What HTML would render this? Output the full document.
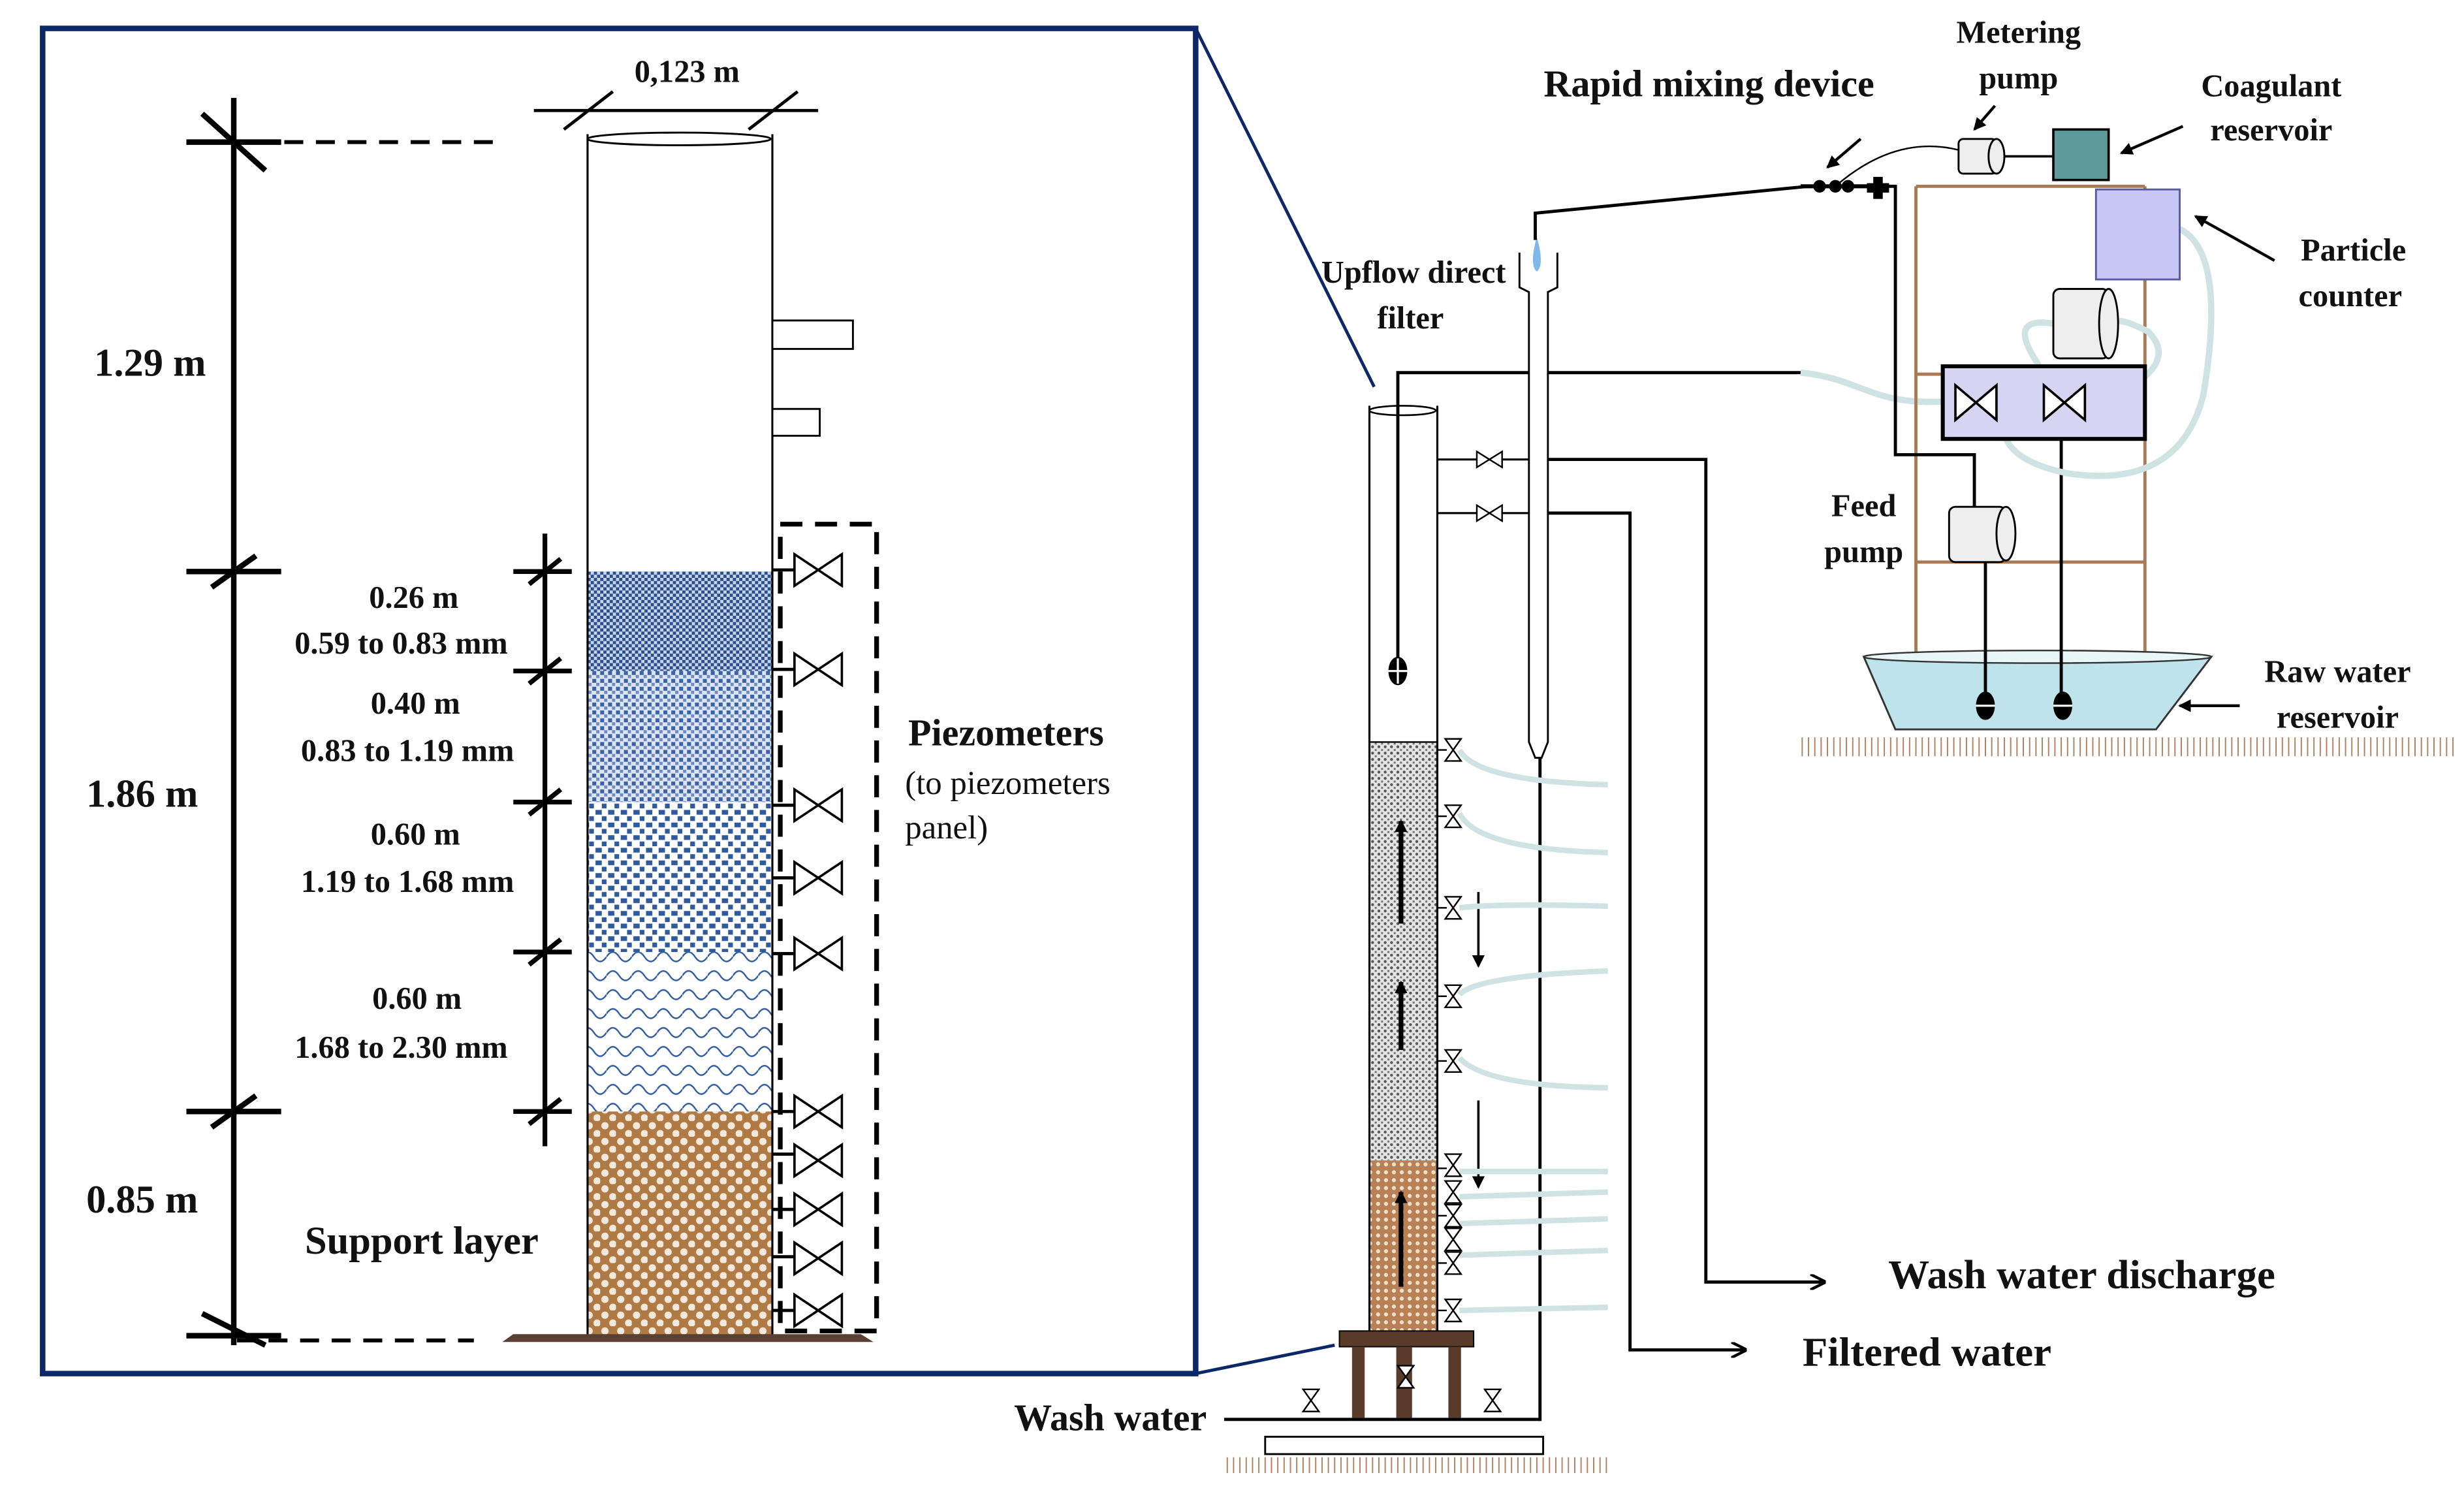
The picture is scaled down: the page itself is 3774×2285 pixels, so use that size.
<!DOCTYPE html>
<html><head><meta charset="utf-8"><style>
html,body{margin:0;padding:0;background:#fff}
svg{display:block}
text{font-family:"Liberation Serif",serif;fill:#111}
.b{font-weight:bold}
</style></head><body>
<svg width="3774" height="2285" viewBox="0 0 1560 945" preserveAspectRatio="none" xmlns="http://www.w3.org/2000/svg">
<defs>
<pattern id="p1" width="4" height="4" patternUnits="userSpaceOnUse"><rect width="4" height="4" fill="#2a4f8f"/><rect x="0" y="0" width="2" height="2" fill="#c8d4ea"/><rect x="2" y="2" width="2" height="2" fill="#c8d4ea"/></pattern>
<pattern id="p2" width="5" height="5" patternUnits="userSpaceOnUse"><rect width="5" height="5" fill="#dde5f3"/><rect x="0" y="0" width="2.5" height="2.5" fill="#3a62a5"/><rect x="2.5" y="2.5" width="2" height="2" fill="#6e8ac0"/></pattern>
<pattern id="p3" width="8" height="8" patternUnits="userSpaceOnUse"><rect width="8" height="8" fill="#fff"/><rect x="1" y="1" width="4" height="3" fill="#2f5b9e"/><rect x="5" y="5" width="3" height="3" fill="#2f5b9e"/></pattern>
<pattern id="p4" width="16" height="12" patternUnits="userSpaceOnUse"><rect width="16" height="12" fill="#fff"/><path d="M0 6 Q4 0 8 6 T16 6" fill="none" stroke="#2f5b9e" stroke-width="1"/></pattern>
<pattern id="p5" width="10" height="10" patternUnits="userSpaceOnUse"><rect width="10" height="10" fill="#b07a45"/><circle cx="3" cy="3" r="2.3" fill="#f3e8dc"/><circle cx="8" cy="8" r="2.3" fill="#f3e8dc"/></pattern>
<pattern id="p6" width="4" height="4" patternUnits="userSpaceOnUse"><rect width="4" height="4" fill="#e4e4e4"/><circle cx="1" cy="1" r="0.9" fill="#555"/><circle cx="3" cy="3" r="0.7" fill="#777"/></pattern>
<pattern id="p7" width="5" height="5" patternUnits="userSpaceOnUse"><rect width="5" height="5" fill="#b88055"/><circle cx="2.5" cy="2.5" r="1.3" fill="#f0e0cc"/></pattern>
<pattern id="hatch" width="4" height="10" patternUnits="userSpaceOnUse"><rect width="4" height="10" fill="#fff"/><line x1="1" y1="0" x2="1" y2="10" stroke="#b08060" stroke-width="0.8"/></pattern>
<marker id="ah" markerWidth="10" markerHeight="10" refX="9" refY="5" orient="auto" markerUnits="userSpaceOnUse"><path d="M0 0 L10 5 L0 10" fill="none" stroke="#000" stroke-width="1.8"/></marker>
<marker id="af" markerWidth="8" markerHeight="8" refX="7" refY="4" orient="auto" markerUnits="userSpaceOnUse"><path d="M0 0 L8 4 L0 8z" fill="#000"/></marker>
<g id="bt"><path d="M-15 -10 L15 10 L15 -10 L-15 10 Z" fill="#fff" stroke="#000" stroke-width="1.5"/></g>
<g id="sv"><path d="M-8 -5 L8 5 L8 -5 L-8 5 Z" fill="#fff" stroke="#000" stroke-width="1"/></g>
<g id="vv"><path d="M-5 -7 L5 7 L-5 7 L5 -7 Z" fill="#fff" stroke="#000" stroke-width="1"/></g>
</defs>

<!-- LEFT PANEL -->
<rect x="27" y="18" width="730" height="852" fill="none" stroke="#0c2868" stroke-width="3.5"/>
<line x1="757" y1="18" x2="870" y2="245" stroke="#0c2868" stroke-width="2"/>
<line x1="757" y1="870" x2="845" y2="852" stroke="#0c2868" stroke-width="2"/>

<!-- column -->
<rect x="372" y="362" width="117" height="63" fill="url(#p1)"/>
<rect x="372" y="425" width="117" height="83" fill="url(#p2)"/>
<rect x="372" y="508" width="117" height="95" fill="url(#p3)"/>
<rect x="372" y="603" width="117" height="101" fill="url(#p4)"/>
<rect x="372" y="704" width="117" height="143" fill="url(#p5)"/>
<line x1="372" y1="85" x2="372" y2="847" stroke="#000" stroke-width="1.3"/>
<line x1="489" y1="85" x2="489" y2="847" stroke="#000" stroke-width="1.3"/>
<ellipse cx="430" cy="88" rx="58" ry="4" fill="#fff" stroke="#000" stroke-width="1.2"/>
<path d="M318 850 L553 850 L545 845 L325 845 Z" fill="#5a4030"/>
<rect x="489" y="203" width="51" height="18" fill="#fff" stroke="#000" stroke-width="1.2"/>
<rect x="489" y="259" width="30" height="17" fill="#fff" stroke="#000" stroke-width="1.2"/>

<!-- width dimension -->
<line x1="338" y1="70" x2="518" y2="70" stroke="#000" stroke-width="2"/>
<line x1="357" y1="82" x2="388" y2="58" stroke="#000" stroke-width="2"/>
<line x1="474" y1="82" x2="505" y2="58" stroke="#000" stroke-width="2"/>
<text x="435" y="52" font-size="20" class="b" text-anchor="middle">0,123 m</text>

<!-- big dimension -->
<g stroke="#000" stroke-width="3.5">
<line x1="148" y1="62" x2="148" y2="852"/>
<line x1="118" y1="90" x2="178" y2="90"/><line x1="128" y1="72" x2="168" y2="108"/>
<line x1="118" y1="362" x2="178" y2="362"/><line x1="134" y1="372" x2="162" y2="352"/>
<line x1="118" y1="704" x2="178" y2="704"/><line x1="134" y1="714" x2="162" y2="694"/>
<line x1="118" y1="846" x2="178" y2="846"/><line x1="128" y1="832" x2="168" y2="852"/>
</g>
<line x1="180" y1="90" x2="315" y2="90" stroke="#000" stroke-width="2.5" stroke-dasharray="12,8"/>
<line x1="150" y1="849" x2="300" y2="849" stroke="#000" stroke-width="2.5" stroke-dasharray="12,8"/>
<text x="95" y="238" font-size="25" class="b" text-anchor="middle">1.29 m</text>
<text x="90" y="511" font-size="25" class="b" text-anchor="middle">1.86 m</text>
<text x="90" y="768" font-size="25" class="b" text-anchor="middle">0.85 m</text>

<!-- inner dimension -->
<g stroke="#000" stroke-width="3">
<line x1="345" y1="338" x2="345" y2="726"/>
<line x1="325" y1="362" x2="362" y2="362"/><line x1="335" y1="370" x2="355" y2="354"/>
<line x1="325" y1="425" x2="362" y2="425"/><line x1="335" y1="433" x2="355" y2="417"/>
<line x1="325" y1="508" x2="362" y2="508"/><line x1="335" y1="516" x2="355" y2="500"/>
<line x1="325" y1="603" x2="362" y2="603"/><line x1="335" y1="611" x2="355" y2="595"/>
<line x1="325" y1="704" x2="362" y2="704"/><line x1="335" y1="712" x2="355" y2="696"/>
</g>
<g font-size="20" class="b" text-anchor="middle">
<text x="262" y="385" class="b">0.26 m</text>
<text x="254" y="414" class="b">0.59 to 0.83 mm</text>
<text x="263" y="452" class="b">0.40 m</text>
<text x="258" y="482" class="b">0.83 to 1.19 mm</text>
<text x="263" y="535" class="b">0.60 m</text>
<text x="258" y="565" class="b">1.19 to 1.68 mm</text>
<text x="264" y="639" class="b">0.60 m</text>
<text x="254" y="670" class="b">1.68 to 2.30 mm</text>
</g>
<text x="267" y="794" font-size="25" class="b" text-anchor="middle">Support layer</text>

<!-- piezometers -->
<rect x="494" y="332" width="61" height="511" fill="none" stroke="#000" stroke-width="3" stroke-dasharray="14,8"/>
<g stroke="#000" stroke-width="2">
<line x1="489" y1="361" x2="503" y2="361"/><line x1="489" y1="424" x2="503" y2="424"/><line x1="489" y1="510" x2="503" y2="510"/>
<line x1="489" y1="556" x2="503" y2="556"/><line x1="489" y1="604" x2="503" y2="604"/><line x1="489" y1="704" x2="503" y2="704"/>
<line x1="489" y1="731" x2="503" y2="731"/><line x1="489" y1="766" x2="503" y2="766"/><line x1="489" y1="796" x2="503" y2="796"/><line x1="489" y1="830" x2="503" y2="830"/>
</g>
<use href="#bt" x="518" y="361"/><use href="#bt" x="518" y="424"/><use href="#bt" x="518" y="510"/><use href="#bt" x="518" y="556"/><use href="#bt" x="518" y="604"/>
<use href="#bt" x="518" y="704"/><use href="#bt" x="518" y="735"/><use href="#bt" x="518" y="766"/><use href="#bt" x="518" y="797"/><use href="#bt" x="518" y="830"/>
<text x="575" y="472" font-size="24" class="b">Piezometers</text>
<text x="573" y="503" font-size="21">(to piezometers</text>
<text x="573" y="531" font-size="21">panel)</text>

<!-- RIGHT: filter -->
<rect x="867" y="470" width="43" height="265" fill="url(#p6)"/>
<rect x="867" y="735" width="43" height="110" fill="url(#p7)"/>
<line x1="867" y1="257" x2="867" y2="845" stroke="#000" stroke-width="1.3"/>
<line x1="910" y1="257" x2="910" y2="845" stroke="#000" stroke-width="1.3"/>
<line x1="867" y1="470" x2="910" y2="470" stroke="#000" stroke-width="1"/>
<ellipse cx="888" cy="260" rx="21" ry="3" fill="#fff" stroke="#000" stroke-width="1.1"/>
<g stroke="#000" stroke-width="3" marker-end="url(#af)">
<line x1="887" y1="585" x2="887" y2="520"/><line x1="887" y1="665" x2="887" y2="622"/><line x1="887" y1="815" x2="887" y2="755"/>
</g>
<g stroke="#000" stroke-width="1.5" marker-end="url(#af)">
<line x1="936" y1="565" x2="936" y2="612"/><line x1="936" y1="697" x2="936" y2="752"/>
</g>
<!-- inlet -->
<polyline points="885,420 885,236 1140,236" fill="none" stroke="#000" stroke-width="2"/>
<path d="M1140 236 C1180 240 1185 258 1236 254" fill="none" stroke="#cfe3e5" stroke-width="4"/>
<ellipse cx="885" cy="425" rx="6" ry="9" fill="#000"/><line x1="879" y1="425" x2="891" y2="425" stroke="#fff" stroke-width="1.3"/><line x1="885" y1="417" x2="885" y2="433" stroke="#fff" stroke-width="1.3"/>
<!-- filtered tube -->
<path d="M962 160 L962 182 L968 185 L968 470 L972 480 L976 480 L980 470 L980 185 L986 182 L986 160" fill="#fff" stroke="#000" stroke-width="1.2"/>
<path d="M973 150 Q968 168 973 172 Q978 168 973 150Z" fill="#7fb8ea"/>
<polyline points="972,152 972,135 1145,118" fill="none" stroke="#000" stroke-width="2"/>
<line x1="975" y1="480" x2="975" y2="900" stroke="#000" stroke-width="2"/>
<!-- valves upper -->
<line x1="910" y1="291" x2="968" y2="291" stroke="#000" stroke-width="1.3"/>
<line x1="910" y1="325" x2="968" y2="325" stroke="#000" stroke-width="1.3"/>
<use href="#sv" x="943" y="291"/><use href="#sv" x="943" y="325"/>
<polyline points="980,291 1080,291 1080,812 1155,812" fill="none" stroke="#000" stroke-width="2" marker-end="url(#ah)"/>
<polyline points="980,325 1032,325 1032,855 1105,855" fill="none" stroke="#000" stroke-width="2" marker-end="url(#ah)"/>
<text x="1318" y="816" font-size="26" class="b" text-anchor="middle">Wash water discharge</text>
<text x="1220" y="865" font-size="26" class="b" text-anchor="middle">Filtered water</text>
<!-- piezometer tubes -->
<g fill="none" stroke="#cfe3e5" stroke-width="3.5">
<path d="M924 475 Q935 495 1018 497"/><path d="M924 515 Q935 538 1018 540"/><path d="M924 575 Q950 572 1018 574"/>
<path d="M924 630 Q935 618 1018 615"/><path d="M924 670 Q940 688 1018 689"/><path d="M924 742 L1018 742"/>
<path d="M924 758 L1018 755"/><path d="M924 775 L1018 772"/><path d="M924 795 L1018 792"/><path d="M924 830 L1018 828"/>
</g>
<g stroke="#000" stroke-width="1"><line x1="910" y1="475" x2="916" y2="475"/><line x1="910" y1="517" x2="916" y2="517"/><line x1="910" y1="575" x2="916" y2="575"/><line x1="910" y1="631" x2="916" y2="631"/><line x1="910" y1="672" x2="916" y2="672"/><line x1="910" y1="740" x2="916" y2="740"/><line x1="910" y1="770" x2="916" y2="770"/><line x1="910" y1="800" x2="916" y2="800"/><line x1="910" y1="830" x2="916" y2="830"/></g>
<use href="#vv" x="920" y="475"/><use href="#vv" x="920" y="517"/><use href="#vv" x="920" y="575"/><use href="#vv" x="920" y="631"/><use href="#vv" x="920" y="672"/>
<use href="#vv" x="920" y="738"/><use href="#vv" x="920" y="755"/><use href="#vv" x="920" y="770"/><use href="#vv" x="920" y="785"/><use href="#vv" x="920" y="800"/><use href="#vv" x="920" y="830"/>
<!-- stand -->
<rect x="848" y="843" width="85" height="10" fill="#5a3a28" stroke="#000" stroke-width="0.8"/>
<rect x="856" y="853" width="8" height="45" fill="#5a3a28"/><rect x="917" y="853" width="8" height="45" fill="#5a3a28"/><rect x="884" y="853" width="10" height="45" fill="#5a3a28"/>
<line x1="775" y1="899" x2="975" y2="899" stroke="#000" stroke-width="2"/>
<use href="#vv" x="830" y="887"/><use href="#vv" x="890" y="872"/><use href="#vv" x="945" y="887"/>
<rect x="801" y="910" width="176" height="11" fill="#fff" stroke="#000" stroke-width="1.2"/>
<rect x="775" y="923" width="243" height="10" fill="url(#hatch)"/>
<text x="703" y="906" font-size="24" class="b" text-anchor="middle">Wash water</text>
<text x="895" y="179" font-size="20" class="b" text-anchor="middle">Upflow direct</text>
<text x="893" y="208" font-size="20" class="b" text-anchor="middle">filter</text>

<!-- right apparatus -->
<g stroke="#a87a55" stroke-width="2" fill="none">
<line x1="1213" y1="118" x2="1213" y2="462"/><line x1="1358" y1="118" x2="1358" y2="462"/>
<line x1="1213" y1="118" x2="1358" y2="118"/><line x1="1213" y1="237" x2="1358" y2="237"/><line x1="1213" y1="356" x2="1358" y2="356"/>
</g>
<path d="M1180 416 L1400 416 L1365 462 L1200 462 Z" fill="#bfe3ea" stroke="#333" stroke-width="1.2"/>
<ellipse cx="1290" cy="416" rx="110" ry="4" fill="#e8f6f8" stroke="#333" stroke-width="1"/>
<rect x="1140" y="467" width="415" height="12" fill="url(#hatch)"/>
<!-- lines -->
<polyline points="1190,118 1200,118 1200,288 1250,288 1250,321" fill="none" stroke="#000" stroke-width="2"/>
<line x1="1257" y1="356" x2="1257" y2="440" stroke="#000" stroke-width="2"/>
<line x1="1305" y1="250" x2="1305" y2="440" stroke="#000" stroke-width="2"/>
<g fill="#000"><ellipse cx="1257" cy="447" rx="6" ry="9"/><ellipse cx="1306" cy="447" rx="6" ry="9"/></g>
<g stroke="#fff" stroke-width="1.3"><line x1="1251" y1="447" x2="1263" y2="447"/><line x1="1300" y1="447" x2="1312" y2="447"/></g>
<!-- tubes -->
<g fill="none" stroke="#cfe3e5" stroke-width="4">
<path d="M1380 145 Q1410 160 1395 250 Q1380 310 1310 300 Q1260 290 1270 260"/>
<path d="M1300 205 Q1270 200 1290 230 Q1300 260 1340 250 Q1380 230 1360 210 Q1340 200 1340 205"/>
</g>
<rect x="1230" y="232" width="128" height="46" fill="#d7d3f2" stroke="#000" stroke-width="2.5"/>
<path d="M1238 244 L1264 266 L1264 244 L1238 266Z" fill="#fff" stroke="#000" stroke-width="1.5"/>
<path d="M1294 244 L1320 266 L1320 244 L1294 266Z" fill="#fff" stroke="#000" stroke-width="1.5"/>
<rect x="1327" y="120" width="53" height="57" fill="#c9c7f5" stroke="#5a5aa0" stroke-width="1.2"/>
<!-- pumps -->
<g fill="#eee" stroke="#000" stroke-width="1.2">
<rect x="1300" y="183" width="35" height="44" rx="4"/><ellipse cx="1335" cy="205" rx="6" ry="22"/>
<rect x="1234" y="321" width="36" height="35" rx="4"/><ellipse cx="1270" cy="338" rx="6" ry="17"/>
<rect x="1240" y="88" width="24" height="22" rx="3"/><ellipse cx="1264" cy="99" rx="5" ry="11"/>
</g>
<line x1="1269" y1="99" x2="1300" y2="99" stroke="#000" stroke-width="1.5"/>
<rect x="1300" y="82" width="35" height="32" fill="#5f9a9a" stroke="#000" stroke-width="1.5"/>
<path d="M1162 118 Q1200 85 1240 95" fill="none" stroke="#000" stroke-width="1"/>
<!-- mixing device -->
<line x1="1140" y1="118" x2="1195" y2="118" stroke="#000" stroke-width="2.5"/>
<g fill="#000"><circle cx="1152" cy="118" r="4"/><circle cx="1162" cy="118" r="4"/><circle cx="1170" cy="118" r="4"/></g>
<path d="M1186 112 h6 v4 h4 v6 h-4 v4 h-6 v-4 h-4 v-6 h4z" fill="#000"/>
<!-- arrows -->
<g stroke="#000" stroke-width="1.8" marker-end="url(#af)">
<line x1="1178" y1="88" x2="1157" y2="106"/><line x1="1263" y1="67" x2="1250" y2="82"/>
<line x1="1382" y1="80" x2="1343" y2="97"/><line x1="1440" y1="165" x2="1390" y2="137"/><line x1="1418" y1="447" x2="1380" y2="447"/>
</g>
<text x="1082" y="61" font-size="24" class="b" text-anchor="middle">Rapid mixing device</text>
<g font-size="20" class="b" text-anchor="middle">
<text x="1278" y="27" class="b">Metering</text><text x="1278" y="56" class="b">pump</text>
<text x="1438" y="61" class="b">Coagulant</text><text x="1438" y="89" class="b">reservoir</text>
<text x="1490" y="165" class="b">Particle</text><text x="1488" y="194" class="b">counter</text>
<text x="1180" y="327" class="b">Feed</text><text x="1180" y="356" class="b">pump</text>
<text x="1480" y="432" class="b">Raw water</text><text x="1480" y="461" class="b">reservoir</text>
</g>
</svg>
</body></html>
